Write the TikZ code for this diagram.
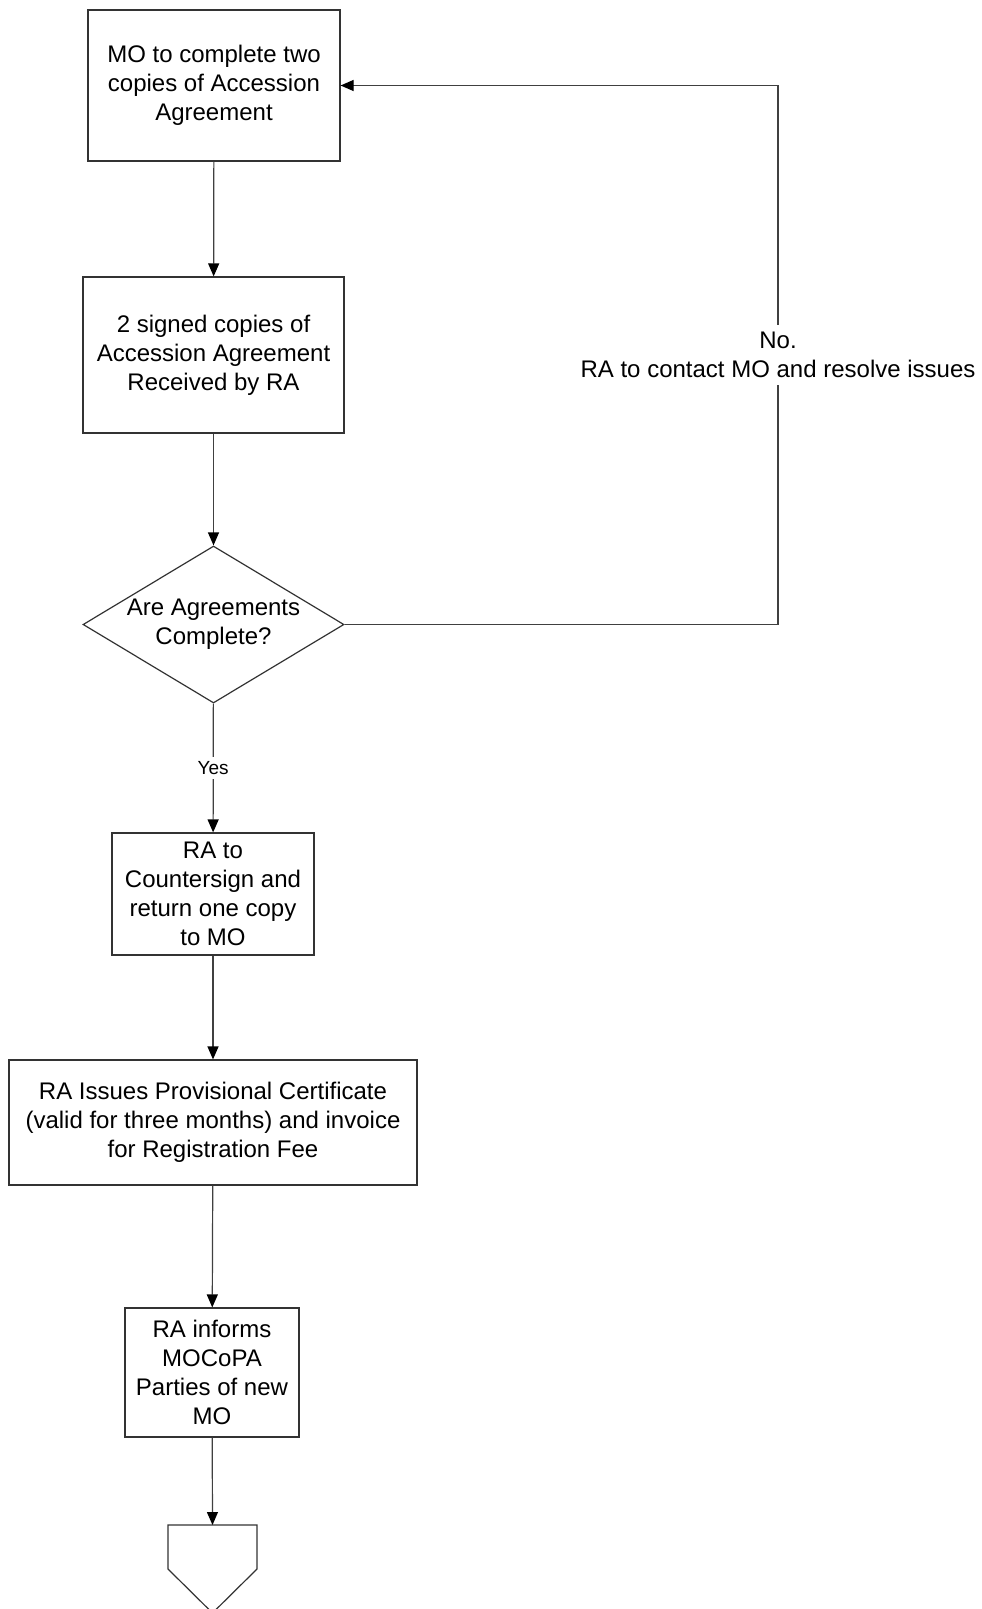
\documentclass[tikz,border=0pt]{standalone}
\usepackage{fontspec}
\setmainfont{Liberation Sans}
\usetikzlibrary{arrows.meta,shapes.geometric}

\tikzset{
  paso/.style={draw=black!80, line width=1.2pt, align=center, inner sep=0pt,
    font=\fontsize{24}{29}\selectfont},
  pregunta/.style={paso, shape=diamond, aspect=1.66},
  flecha/.style={draw=black!75, line width=1.2pt,
    -{Triangle[length=13pt,width=11pt,color=black,fill=black]}},
  rotulo/.style={fill=white, align=center, inner sep=7pt}
}

\begin{document}
\begin{tikzpicture}[x=1pt,y=-1pt]
        \useasboundingbox (0,0) rectangle (982,1609);

        % Step 1: The steps of the flow, top to bottom
        \node[paso, minimum width=252pt, minimum height=151pt] (agree) at (214,85.5)
            {MO to complete two\\copies of Accession\\Agreement};
        \node[paso, minimum width=261pt, minimum height=156pt] (signed) at (213.5,355)
            {2 signed copies of\\Accession Agreement\\Received by RA};
        \node[pregunta, minimum width=261pt, minimum height=157pt] (check) at (213.5,624.5)
            {Are Agreements\\Complete?};
        \node[paso, minimum width=202pt, minimum height=122pt] (counter) at (213,894)
            {RA to\\Countersign and\\return one copy\\to MO};
        \node[paso, minimum width=408pt, minimum height=125pt] (issue) at (213,1122.5)
            {RA Issues Provisional Certificate\\(valid for three months) and invoice\\for Registration Fee};
        \node[paso, minimum width=174pt, minimum height=129pt] (inform) at (212,1372.5)
            {RA informs\\MOCoPA\\Parties of new\\MO};

        % Step 2: Off-page connector at the foot
        \coordinate (off) at (212.5,1525);
        \draw[draw=black!80, line width=1.2pt] (168,1525) -- (257,1525) -- (257,1569)
            -- (212.5,1613) -- (168,1569) -- cycle;

        % Step 3: The main line of arrows
        \draw[flecha] (agree) -- (signed);
        \draw[flecha] (signed) -- (check);
        \draw[flecha] (check) -- node[rotulo, inner sep=4pt, font=\fontsize{19}{22}\selectfont] {Yes} (counter);
        \draw[flecha] (counter) -- (issue);
        \draw[flecha] (issue) -- (inform);
        \draw[flecha] (inform) -- (off);

        % Step 4: The way back when the agreements are not complete
        \coordinate (back) at (778,85.5);
        \draw[flecha] (check.east) -| node[pos=0.75, rotulo, font=\fontsize{24}{29}\selectfont]
            {No.\\RA to contact MO and resolve issues} (back) -- (agree.east);
\end{tikzpicture}
\end{document}
